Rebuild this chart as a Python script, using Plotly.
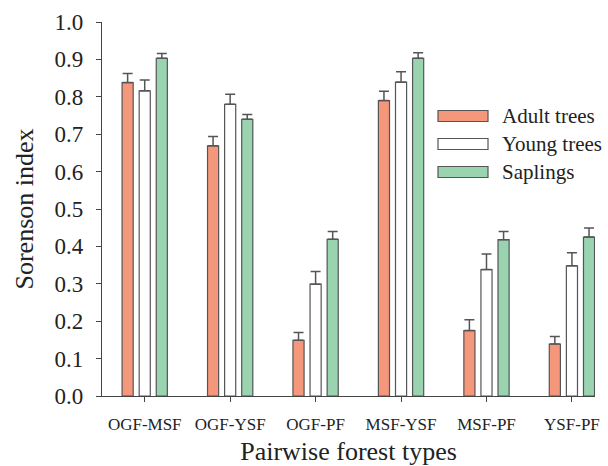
import plotly.graph_objects as go

categories = ["OGF-MSF", "OGF-YSF", "OGF-PF", "MSF-YSF", "MSF-PF", "YSF-PF"]
adult = [0.838, 0.669, 0.149, 0.790, 0.175, 0.139]
adult_err = [0.024, 0.025, 0.021, 0.025, 0.029, 0.020]
young = [0.816, 0.780, 0.299, 0.839, 0.338, 0.348]
young_err = [0.029, 0.027, 0.034, 0.028, 0.042, 0.035]
saplings = [0.903, 0.740, 0.419, 0.903, 0.418, 0.425]
saplings_err = [0.013, 0.013, 0.021, 0.015, 0.022, 0.024]
y_ticks = [0.0, 0.1, 0.2, 0.3, 0.4, 0.5, 0.6, 0.7, 0.8, 0.9, 1.0]
series_names = ["Adult trees", "Young trees", "Saplings"]

FONT = "Liberation Serif, Times New Roman, serif"
EDGE = "#555555"
colors = ["#F4977A", "#FFFFFF", "#99D3AF"]

fig = go.Figure()
for name, vals, errs, col in zip(series_names, [adult, young, saplings],
                                 [adult_err, young_err, saplings_err], colors):
    fig.add_trace(go.Bar(
        x=list(range(len(categories))), y=vals, name=name,
        marker=dict(color=col, line=dict(color=EDGE, width=1.2)),
        error_y=dict(type="data", array=errs, arrayminus=[0]*len(errs),
                     symmetric=False, color=EDGE, thickness=1.5, width=5),
        showlegend=False, hoverinfo="skip",
    ))

# custom legend with wide swatches
leg_y = [116, 144, 172]
plot_top, plot_bot = 22, 396
plot_l, plot_r = 102, 595
def px_to_paper_x(px):
    return (px - plot_l) / (plot_r - plot_l)
def px_to_paper_y(py):
    return (plot_bot - py) / (plot_bot - plot_top)
for name, col, yy in zip(series_names, colors, leg_y):
    fig.add_shape(type="rect", xref="paper", yref="paper",
                  x0=px_to_paper_x(438), x1=px_to_paper_x(488),
                  y0=px_to_paper_y(yy + 5.5), y1=px_to_paper_y(yy - 5.5),
                  fillcolor=col, line=dict(color=EDGE, width=1.2))
    fig.add_annotation(xref="paper", yref="paper",
                       x=px_to_paper_x(500), y=px_to_paper_y(yy),
                       text=name, showarrow=False, xanchor="left", yanchor="middle",
                       font=dict(family=FONT, size=21, color="#222222"))

fig.update_layout(
    width=608, height=466,
    margin=dict(l=plot_l, r=608 - plot_r, t=plot_top, b=466 - plot_bot),
    paper_bgcolor="white", plot_bgcolor="white",
    barmode="group", bargap=0.4, bargroupgap=0.35,
    font=dict(family=FONT, color="#222222"),
)
fig.update_xaxes(
    tickmode="array", tickvals=list(range(len(categories))), ticktext=categories,
    range=[-0.5, 5.27], showline=True, linecolor="#444444", linewidth=1.2,
    ticks="outside", ticklen=5, tickcolor="#444444", tickwidth=1.2,
    showgrid=False, zeroline=False, automargin=False,
    tickfont=dict(family=FONT, size=17, color="#222222"),
    ticklabelstandoff=7,
    title=dict(text="Pairwise forest types", font=dict(family=FONT, size=26, color="#222222"), standoff=9),
)
fig.update_yaxes(
    range=[0, 1.0], tickmode="array", tickvals=y_ticks,
    ticktext=[f"{v:.1f}" for v in y_ticks],
    showline=True, linecolor="#444444", linewidth=1.2,
    ticks="outside", ticklen=5, tickcolor="#444444", tickwidth=1.2,
    showgrid=False, zeroline=False, automargin=False,
    tickfont=dict(family=FONT, size=23, color="#222222"),
    ticklabelstandoff=8,
    title=dict(text="Sorenson index", font=dict(family=FONT, size=26, color="#222222"), standoff=13),
)

fig.write_html("out.html", config={"displayModeBar": False},
               post_script="document.body.style.margin='0';document.body.style.overflow='hidden';")
